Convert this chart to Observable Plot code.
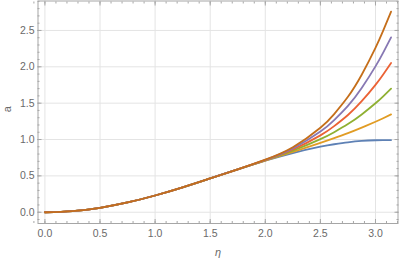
<!DOCTYPE html>
<html><head><meta charset="utf-8">
<script src="https://cdn.jsdelivr.net/npm/d3@7"></script>
<script src="https://cdn.jsdelivr.net/npm/@observablehq/plot@0.6"></script>
<style>body{margin:0;background:#fff} svg{display:block}</style>
</head><body><div id="chart"></div>
<script>
// conformal time values
const eta = [0, 0.25, 0.5, 0.75, 1.0, 1.25, 1.5, 1.75, 2.0, 2.25, 2.5, 2.625, 2.75, 2.875, 3.0, 3.07, 3.1416];
// scale factor for each curve
const curveBlue   = [0, 0.016, 0.061, 0.134, 0.230, 0.342, 0.465, 0.589, 0.708, 0.814, 0.901, 0.935, 0.962, 0.981, 0.990, 0.992, 0.993];
const curveYellow = [0, 0.016, 0.061, 0.134, 0.230, 0.342, 0.465, 0.589, 0.711, 0.830, 0.953, 1.018, 1.087, 1.163, 1.244, 1.293, 1.346];
const curveGreen  = [0, 0.016, 0.061, 0.134, 0.230, 0.342, 0.465, 0.589, 0.714, 0.846, 1.005, 1.101, 1.212, 1.345, 1.498, 1.594, 1.699];
const curveRed    = [0, 0.016, 0.061, 0.134, 0.230, 0.342, 0.465, 0.589, 0.717, 0.862, 1.057, 1.184, 1.337, 1.527, 1.752, 1.895, 2.052];
const curvePurple = [0, 0.016, 0.061, 0.134, 0.230, 0.342, 0.465, 0.589, 0.720, 0.878, 1.109, 1.267, 1.462, 1.709, 2.006, 2.196, 2.405];
const curveOrange = [0, 0.016, 0.061, 0.134, 0.230, 0.342, 0.465, 0.589, 0.723, 0.894, 1.161, 1.350, 1.587, 1.891, 2.260, 2.497, 2.758];

const seriesNames = ["c1", "c2", "c3", "c4", "c5", "c6"];
const seriesValues = [curveBlue, curveYellow, curveGreen, curveRed, curvePurple, curveOrange];
const seriesColors = ["#5E81B5", "#E19C24", "#8FB032", "#EB6235", "#8778B3", "#C56E1A"];

const xTicks = [0, 0.5, 1.0, 1.5, 2.0, 2.5, 3.0];
const yTicks = [0, 0.5, 1.0, 1.5, 2.0, 2.5];
const xMinor = [-0.1,0,0.1,0.2,0.3,0.4,0.5,0.6,0.7,0.8,0.9,1.0,1.1,1.2,1.3,1.4,1.5,1.6,1.7,1.8,1.9,2.0,2.1,2.2,2.3,2.4,2.5,2.6,2.7,2.8,2.9,3.0,3.1,3.2];
const yMinor = [-0.1,0,0.1,0.2,0.3,0.4,0.5,0.6,0.7,0.8,0.9,1.0,1.1,1.2,1.3,1.4,1.5,1.6,1.7,1.8,1.9,2.0,2.1,2.2,2.3,2.4,2.5,2.6,2.7,2.8,2.9];

const rows = [];
seriesNames.forEach((name, i) => {
  eta.forEach((e, j) => rows.push({eta: e, a: seriesValues[i][j], series: name}));
});

const frameColor = "#a6a6a6";
const textColor = "#6a6a6a";
const blank = () => "";

const plot = Plot.plot({
  width: 399, height: 261,
  marginLeft: 37.5, marginRight: 1.5, marginTop: 0.5, marginBottom: 38,
  x: {domain: [-0.0628, 3.2044]},
  y: {domain: [-0.155, 2.905]},
  color: {domain: seriesNames, range: seriesColors},
  style: {fontFamily: "Liberation Sans, Arial, sans-serif", fontSize: "10.5px", background: "#fff"},
  marks: [
    Plot.gridX({ticks: xTicks, stroke: "#e4e4e4", strokeOpacity: 1}),
    Plot.gridY({ticks: yTicks, stroke: "#e4e4e4", strokeOpacity: 1}),
    Plot.line(rows, {x: "eta", y: "a", z: "series", stroke: "series", strokeWidth: 1.8, curve: "natural"}),
    Plot.frame({stroke: frameColor}),
    // major ticks, inward, on all sides
    Plot.axisX({ticks: xTicks, anchor: "bottom", tickSize: -4, tickFormat: blank, stroke: frameColor, label: null}),
    Plot.axisX({ticks: xTicks, anchor: "top", tickSize: -4, tickFormat: blank, stroke: frameColor, label: null}),
    Plot.axisY({ticks: yTicks, anchor: "left", tickSize: -4, tickFormat: blank, stroke: frameColor, label: null}),
    Plot.axisY({ticks: yTicks, anchor: "right", tickSize: -4, tickFormat: blank, stroke: frameColor, label: null}),
    // minor ticks
    Plot.axisX({ticks: xMinor, anchor: "bottom", tickSize: -2, tickFormat: blank, stroke: frameColor, label: null}),
    Plot.axisX({ticks: xMinor, anchor: "top", tickSize: -2, tickFormat: blank, stroke: frameColor, label: null}),
    Plot.axisY({ticks: yMinor, anchor: "left", tickSize: -2, tickFormat: blank, stroke: frameColor, label: null}),
    Plot.axisY({ticks: yMinor, anchor: "right", tickSize: -2, tickFormat: blank, stroke: frameColor, label: null}),
    // tick labels
    Plot.axisX({ticks: xTicks, anchor: "bottom", tickSize: 0, tickPadding: 6, tickFormat: d3.format(".1f"), fill: textColor, label: null}),
    Plot.axisY({ticks: yTicks, anchor: "left", tickSize: 0, tickPadding: 3.5, tickFormat: d3.format(".1f"), fill: textColor, label: null}),
    // axis titles
    Plot.text(["a"], {text: d => d, frameAnchor: "left", dx: -30.5, rotate: -90, fill: textColor, fontSize: 11}),
    Plot.text(["η"], {text: d => d, frameAnchor: "bottom", dy: 29, fill: textColor, fontSize: 11, fontStyle: "italic", lineAnchor: "middle"})
  ]
});
document.getElementById("chart").appendChild(plot);
</script>
</body></html>
